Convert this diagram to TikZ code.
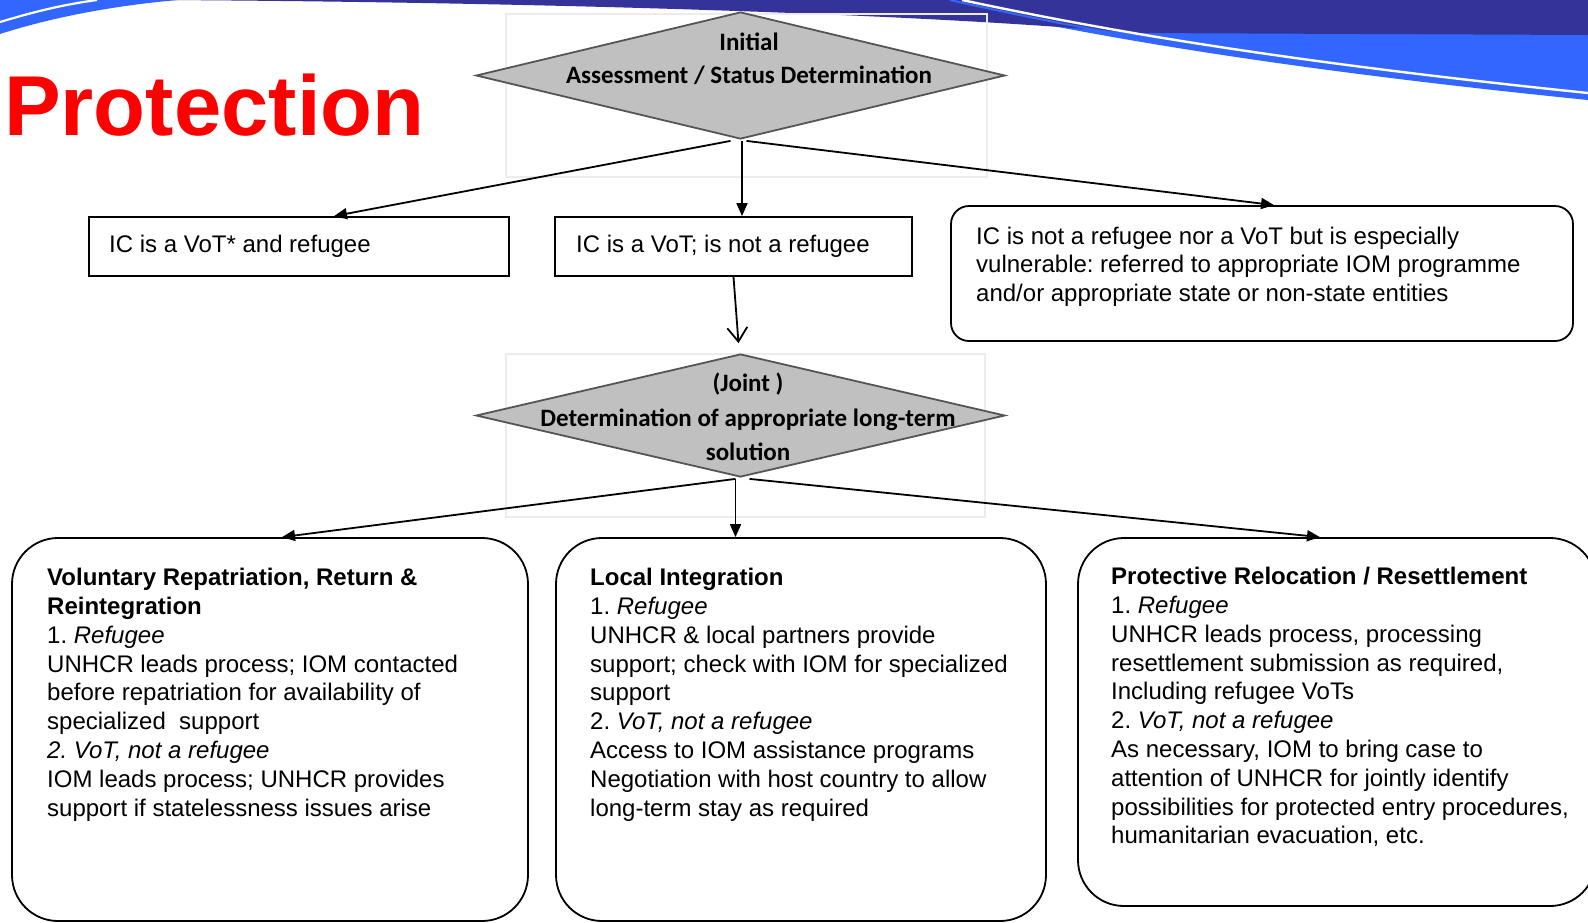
\documentclass[tikz,border=0pt]{standalone}
\usepackage{fontspec}
\setmainfont{Liberation Sans}
\newfontfamily\calib{Carlito}
\usetikzlibrary{arrows.meta,shapes.geometric}
\definecolor{navy}{HTML}{333399}
\definecolor{wblue}{HTML}{3366FF}
\definecolor{dfill}{HTML}{C0C0C0}
\definecolor{dline}{HTML}{555555}
\definecolor{protred}{HTML}{FF0000}
\definecolor{frame}{HTML}{ECECEC}
\frenchspacing
\tikzset{
  dia/.style={diamond, draw=dline, fill=dfill, line width=1.8pt, inner sep=0pt, minimum width=529pt},
  dtext/.style={font=\calib\bfseries\fontsize{25}{33}\selectfont, align=center, inner sep=0pt, anchor=north},
  sqbox/.style={draw, line width=1.8pt, inner sep=0pt},
  rbox/.style={draw, line width=1.8pt, inner sep=0pt, rounded corners=46pt},
  btext/.style={font=\fontsize{24}{28.8}\selectfont, align=left, inner sep=0pt, anchor=north west},
  arr/.style={draw, line width=1.8pt, -{Triangle[length=13pt,width=11pt]}},
  openarr/.style={draw, line width=1.8pt, -{Straight Barb[length=14pt,width=20pt,line width=1.8pt]}},
}
\begin{document}
\begin{tikzpicture}[x=1pt,y=-1pt]
\useasboundingbox (0,0) rectangle (1588,922);
\clip (0,0) rectangle (1588,922);
% top wave decoration
\fill[wblue] (0,0) -- (178,0) .. controls (110,6) and (50,18) .. (0,34) -- cycle;
\draw[white, line width=2.2pt] (0,22) .. controls (30,13) and (60,5) .. (97,0);
\fill[wblue] (930,0) -- (1588,0) -- (1588,100) .. controls (1250,66) and (1060,30) .. (930,0) -- cycle;
\fill[navy] (165,0) -- (1588,0) -- (1588,35) -- (1135,33) .. controls (900,12) and (500,2) .. (165,0) -- cycle;
\draw[wblue, line width=2pt] (950,0) .. controls (1075,28) and (1250,62) .. (1588,97);
\draw[white, line width=2.4pt] (962,0) .. controls (1080,25) and (1250,58) .. (1588,93);
% title
\node[anchor=base west, inner sep=0pt, text=protred, font=\fontsize{85}{85}\selectfont\bfseries] (title) at (4,135) {Protection};
% light frames behind diamonds
\draw[frame, line width=1.5pt] (506,14) rectangle (987,177);
\draw[frame, line width=1.5pt] (506,354) rectangle (985,517);
% diamonds
\node[dia, minimum height=127pt] (d1) at (740.5,75.5) {};
\node[dtext] (d1t) at (749,33) {Initial\\Assessment / Status Determination};
\node[dia, minimum height=123pt] (d2) at (740.5,415.5) {};
\node[dtext, font=\calib\bfseries\fontsize{25}{34.5}\selectfont] (d2t) at (748,373) {(Joint )\\Determination of appropriate long-term\\solution};
% first level boxes
\node[sqbox, minimum width=420pt, minimum height=59pt] (b1) at (299,246.5) {};
\node[btext] (b1t) at (109,235) {IC is a VoT* and refugee};
\node[sqbox, minimum width=357pt, minimum height=59pt] (b2) at (733.5,246.5) {};
\node[btext] (b2t) at (576,235) {IC is a VoT; is not a refugee};
\node[sqbox, rounded corners=18pt, minimum width=622pt, minimum height=135pt] (b3) at (1262,273.5) {};
\node[btext, font=\fontsize{24}{28.4}\selectfont] (b3t) at (976,227) {IC is not a refugee nor a VoT but is especially\\vulnerable: referred to appropriate IOM programme\\and/or appropriate state or non-state entities};
% second level boxes
\node[rbox, minimum width=516pt, minimum height=383pt] (b4) at (270,729.5) {};
\node[btext] (b4t) at (47,568) {\textbf{Voluntary Repatriation, Return \&}\\\textbf{Reintegration}\\1. \textit{Refugee}\\UNHCR leads process; IOM contacted\\before repatriation for availability of\\specialized\ \ support\\\textit{2. VoT, not a refugee}\\IOM leads process; UNHCR provides\\support if statelessness issues arise};
\node[rbox, minimum width=490pt, minimum height=383pt] (b5) at (801,729.5) {};
\node[btext] (b5t) at (590,568) {\textbf{Local Integration}\\1. \textit{Refugee}\\UNHCR \& local partners provide\\support; check with IOM for specialized\\support\\2. \textit{VoT, not a refugee}\\Access to IOM assistance programs\\Negotiation with host country to allow\\long-term stay as required};
\node[rbox, minimum width=518pt, minimum height=368pt] (b6) at (1337,722) {};
\node[btext] (b6t) at (1111,567) {\textbf{Protective Relocation / Resettlement}\\1. \textit{Refugee}\\UNHCR leads process, processing\\resettlement submission as required,\\Including refugee VoTs\\2. \textit{VoT, not a refugee}\\As necessary, IOM to bring case to\\attention of UNHCR for jointly identify\\possibilities for protected entry procedures,\\humanitarian evacuation, etc.};
% connectors
\draw[arr] ([xshift=-10pt,yshift=-1pt]d1.south) -- ([xshift=35pt]b1.north);
\draw[arr] ([xshift=1.5pt,yshift=-1pt]d1.south) -- ([xshift=1.5pt]d1.south |- b2.north);
\draw[arr] ([xshift=6pt,yshift=-1pt]d1.south) -- ([xshift=12pt]b3.north);
\draw[openarr] (b2.south) -- ([xshift=-2pt,yshift=10pt]d2.north);
\draw[arr] ([xshift=-5pt,yshift=-1pt]d2.south) -- ([xshift=12pt]b4.north);
\draw[arr] ([xshift=-5pt,yshift=-1pt]d2.south) -- ([xshift=-5pt]d2.south |- b5.north);
\draw[arr] ([xshift=9pt,yshift=-1pt]d2.south) -- ([xshift=-17pt]b6.north);
\end{tikzpicture}
\end{document}
